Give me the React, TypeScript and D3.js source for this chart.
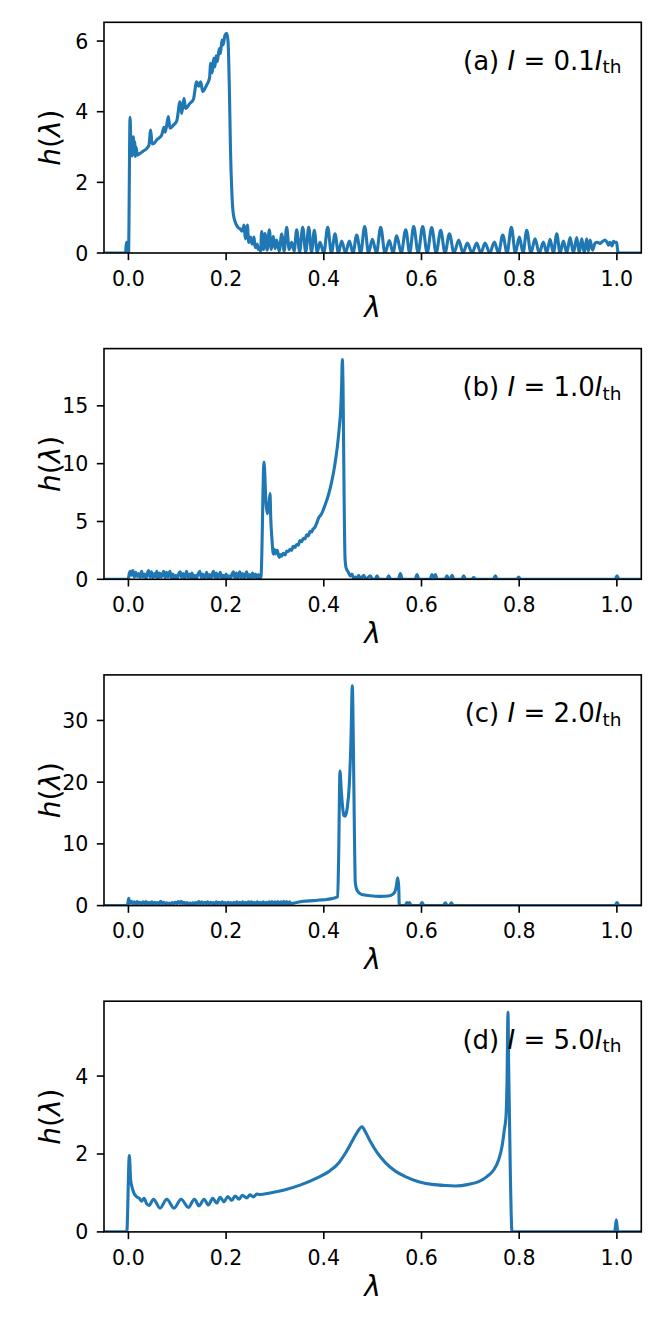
import React from 'react';
import * as d3 from 'd3';

// ---------- data (lambda, h) ----------
const seriesA: [number, number][] = [
  [-0.06, 0], [-0.006, 0], [-0.004, 0.3], [-0.0015, 0.2], [0.0005, 0], [0.0015, 1.5], [0.0033, 3.84],
  [0.0055, 2.9], [0.0074, 2.75], [0.0101, 3.29], [0.0115, 2.8], [0.0128, 3.15], [0.0142, 2.73],
  [0.0155, 3.0], [0.0183, 2.77], [0.0237, 2.82], [0.03, 2.88], [0.0374, 2.96], [0.042, 3.05],
  [0.0456, 3.48], [0.0483, 3.09], [0.052, 3.1], [0.0578, 3.2], [0.064, 3.27], [0.0681, 3.34],
  [0.0729, 3.56], [0.0755, 3.42], [0.0817, 3.86], [0.085, 3.53], [0.092, 3.62], [0.099, 3.74],
  [0.1056, 4.28], [0.109, 3.95], [0.1138, 4.38], [0.117, 4.09], [0.126, 4.24], [0.133, 4.35],
  [0.1397, 4.85], [0.144, 4.72], [0.148, 4.85], [0.152, 4.57], [0.16, 4.75], [0.166, 4.95],
  [0.1684, 5.37], [0.1715, 5.1], [0.1745, 5.51], [0.177, 5.27], [0.1793, 5.58], [0.182, 5.42],
  [0.186, 5.79], [0.1885, 5.65], [0.1916, 6.03], [0.194, 5.89], [0.1977, 6.17], [0.2011, 6.22],
  [0.2039, 6.0], [0.2066, 4.7], [0.209, 2.9], [0.2115, 1.8], [0.214, 1.2], [0.217, 0.95],
  [0.221, 0.8], [0.226, 0.7], [0.2285, 0.69], [0.232, 0.62], [0.234, 0.64], [0.2366, 0.79],
  [0.2394, 0.4], [0.241, 0.6], [0.2435, 0.79], [0.2462, 0.3], [0.2485, 0.42], [0.2503, 0.45],
  [0.253, 0.25], [0.255, 0.3], [0.2571, 0.45], [0.259, 0.2], [0.2612, 0.15], [0.2635, 0.25],
  [0.266, 0.1], [0.268, 0.15], [0.2705, 0.05],
  [0.2728, 0.61], [0.2762, 0.1], [0.2796, 0.55], [0.284, 0.08], [0.2885, 0.66], [0.2926, 0.1],
  [0.2967, 0.47], [0.3001, 0.12], [0.3035, 0.37], [0.3086, 0.05], [0.3138, 0.54], [0.3189, 0.05],
  [0.324, 0.73], [0.3291, 0.1], [0.3342, 0.3], [0.3393, 0.05], [0.3445, 0.66], [0.3506, 0.03],
  [0.3568, 0.73], [0.363, 0.02], [0.3691, 0.73], [0.3748, 0.02], [0.3806, 0.64], [0.3864, 0.02],
  [0.3922, 0.3], [0.4, 0], [0.408, 0.73], [0.4155, 0], [0.423, 0.54], [0.4298, 0],
  [0.4366, 0.34], [0.4445, 0], [0.4523, 0.34], [0.4598, 0], [0.4673, 0.51], [0.4755, 0],
  [0.4837, 0.75], [0.4915, 0], [0.4994, 0.39], [0.5079, 0], [0.5164, 0.73], [0.5253, 0],
  [0.5342, 0.35], [0.5417, 0], [0.5492, 0.49], [0.5585, 0], [0.5677, 0.66], [0.5758, 0],
  [0.584, 0.75], [0.5932, 0], [0.6024, 0.75], [0.6116, 0], [0.6209, 0.72], [0.6301, 0],
  [0.6393, 0.64], [0.6482, 0], [0.6571, 0.54], [0.6666, 0], [0.6762, 0.37], [0.685, 0],
  [0.6939, 0.28], [0.7035, 0], [0.713, 0.28], [0.7215, 0], [0.7301, 0.28], [0.7397, 0],
  [0.7492, 0.31], [0.7578, 0], [0.7663, 0.51], [0.7752, 0], [0.784, 0.73], [0.7922, 0],
  [0.8004, 0.45], [0.8079, 0], [0.8154, 0.64], [0.824, 0], [0.8325, 0.4], [0.841, 0],
  [0.8495, 0.31], [0.8564, 0], [0.8632, 0.39], [0.87, 0], [0.8769, 0.54], [0.8837, 0],
  [0.8905, 0.34], [0.8974, 0], [0.9042, 0.44], [0.911, 0], [0.9178, 0.44], [0.923, 0],
  [0.9281, 0.4], [0.9332, 0], [0.9383, 0.4], [0.9417, 0.05], [0.9451, 0.37], [0.9502, 0.08],
  [0.9553, 0.28], [0.96, 0.3], [0.9656, 0.27], [0.97, 0.32], [0.9758, 0.37], [0.98, 0.3],
  [0.983, 0.22], [0.986, 0.3], [0.99, 0.2], [0.993, 0.33], [0.9963, 0.3], [0.9995, 0.3],
  [1.0015, 0.08], [1.003, 0], [1.06, 0],
];

const seriesB: [number, number][] = [
  [-0.06, 0], [-0.002, 0], [0.0, 0.1], [0.002, 0.55], [0.004, 0.7], [0.006, 0.35], [0.009, 0.75],
  [0.012, 0.2], [0.015, 0.6], [0.018, 0.25], [0.021, 0.5], [0.024, 0.15], [0.027, 0.7], [0.03, 0.2],
  [0.033, 0.45], [0.036, 0.1], [0.039, 0.55], [0.041, 0.75], [0.044, 0.2], [0.047, 0.65], [0.05, 0.15],
  [0.053, 0.5], [0.056, 0.2], [0.058, 0.7], [0.061, 0.1], [0.064, 0.55], [0.067, 0.2], [0.07, 0.45],
  [0.072, 0.7], [0.075, 0.15], [0.078, 0.6], [0.081, 0.2], [0.085, 0.7], [0.088, 0.1], [0.091, 0.45],
  [0.094, 0.1], [0.097, 0.35], [0.1, 0.05], [0.103, 0.5], [0.106, 0.65], [0.109, 0.15], [0.112, 0.5],
  [0.115, 0.1], [0.119, 0.7], [0.122, 0.15], [0.125, 0.45], [0.128, 0.1], [0.13, 0.55], [0.133, 0.1],
  [0.136, 0.35], [0.139, 0.05], [0.142, 0.4], [0.146, 0.7], [0.149, 0.15], [0.152, 0.45], [0.155, 0.1],
  [0.158, 0.35], [0.16, 0.6], [0.163, 0.1], [0.166, 0.4], [0.169, 0.1], [0.172, 0.5], [0.174, 0.7],
  [0.177, 0.15], [0.18, 0.55], [0.183, 0.1], [0.186, 0.4], [0.188, 0.6], [0.191, 0.1], [0.194, 0.35],
  [0.197, 0.05], [0.2, 0.45], [0.203, 0.1], [0.206, 0.3], [0.209, 0.05], [0.212, 0.45], [0.215, 0.65],
  [0.218, 0.15], [0.221, 0.55], [0.224, 0.1], [0.228, 0.65], [0.231, 0.15], [0.234, 0.5], [0.237, 0.1],
  [0.24, 0.45], [0.242, 0.65], [0.245, 0.1], [0.248, 0.4], [0.251, 0.1], [0.254, 0.55], [0.257, 0.15],
  [0.26, 0.45], [0.263, 0.1], [0.266, 0.4], [0.269, 0.05], [0.2715, 0.25], [0.2776, 10.15],
  [0.2817, 6.55], [0.2844, 5.68], [0.2872, 6.26], [0.2899, 7.41], [0.2913, 5.39], [0.294, 3.37],
  [0.2967, 2.18], [0.2985, 2.6], [0.3005, 2.2], [0.3022, 2.45], [0.3049, 2.5], [0.307, 2.1],
  [0.309, 1.9], [0.3115, 2.15], [0.3138, 2.0], [0.317, 2.25], [0.3206, 2.1], [0.324, 2.45],
  [0.3274, 2.4], [0.331, 2.6], [0.3343, 2.5], [0.337, 2.85], [0.3411, 2.75], [0.344, 3.0],
  [0.3479, 2.95], [0.351, 3.35], [0.3547, 3.25], [0.358, 3.55], [0.3615, 3.5], [0.365, 3.85],
  [0.3683, 3.75], [0.372, 4.15], [0.3752, 4.1], [0.378, 4.35], [0.3799, 4.4], [0.3854, 4.84],
  [0.3888, 5.25], [0.3956, 5.68], [0.4024, 6.4], [0.4093, 7.27], [0.4161, 8.42], [0.4229, 10.0],
  [0.4277, 11.45], [0.4318, 13.18], [0.4345, 14.62], [0.4366, 16.93], [0.4379, 19.0], [0.4393, 16.9],
  [0.4413, 8.28], [0.4434, 1.9], [0.4454, 1.04], [0.4502, 0.61], [0.4545, 0.3], [0.4577, 0.45],
  [0.461, 0.1], [0.4655, 0.2], [0.468, 0.05], [0.4714, 0.35], [0.475, 0.03], [0.4816, 0.35],
  [0.486, 0.02], [0.4952, 0.3], [0.5, 0], [0.5049, 0], [0.5089, 0.3], [0.513, 0], [0.529, 0],
  [0.5328, 0.3], [0.537, 0], [0.5527, 0], [0.5567, 0.5], [0.5607, 0], [0.5868, 0], [0.5908, 0.4],
  [0.5948, 0], [0.6175, 0], [0.6215, 0.4], [0.625, 0.1], [0.6283, 0.4], [0.6323, 0], [0.6482, 0],
  [0.6522, 0.3], [0.6562, 0], [0.6585, 0], [0.6625, 0.35], [0.6665, 0], [0.6824, 0], [0.6864, 0.3],
  [0.6904, 0], [0.7029, 0], [0.7069, 0.15], [0.7109, 0], [0.7472, 0], [0.7512, 0.3], [0.7552, 0],
  [0.795, 0], [0.799, 0.2], [0.803, 0], [0.9963, 0], [1.0003, 0.3], [1.0043, 0], [1.06, 0],
];

const seriesC: [number, number][] = [
  [-0.06, 0], [-0.002, 0], [0.0005, 1.2], [0.003, 0.35], [0.006, 0.7], [0.009, 0.3], [0.012, 0.6],
  [0.015, 0.25], [0.018, 0.65], [0.021, 0.3], [0.024, 0.55], [0.027, 0.25], [0.03, 0.6], [0.033, 0.3],
  [0.036, 0.65], [0.039, 0.25], [0.042, 0.5], [0.045, 0.3], [0.048, 0.6], [0.051, 0.2], [0.054, 0.55],
  [0.057, 0.3], [0.06, 0.5], [0.063, 0.25], [0.066, 0.7], [0.069, 0.3], [0.072, 0.55], [0.075, 0.25],
  [0.078, 0.45], [0.081, 0.2], [0.084, 0.4], [0.087, 0.25], [0.09, 0.5], [0.093, 0.3], [0.096, 0.55],
  [0.099, 0.3], [0.102, 0.65], [0.105, 0.35], [0.108, 0.7], [0.111, 0.3], [0.114, 0.55], [0.117, 0.25],
  [0.12, 0.5], [0.123, 0.2], [0.126, 0.4], [0.129, 0.2], [0.132, 0.45], [0.135, 0.25], [0.138, 0.5],
  [0.141, 0.3], [0.144, 0.65], [0.147, 0.3], [0.15, 0.6], [0.153, 0.25], [0.156, 0.55], [0.159, 0.3],
  [0.162, 0.6], [0.165, 0.25], [0.168, 0.55], [0.171, 0.3], [0.174, 0.5], [0.177, 0.2], [0.18, 0.6],
  [0.183, 0.3], [0.186, 0.55], [0.189, 0.25], [0.192, 0.6], [0.195, 0.3], [0.198, 0.5], [0.201, 0.2],
  [0.204, 0.55], [0.207, 0.3], [0.21, 0.5], [0.213, 0.2], [0.216, 0.55], [0.219, 0.25], [0.222, 0.6],
  [0.225, 0.2], [0.228, 0.55], [0.231, 0.2], [0.234, 0.6], [0.237, 0.2], [0.24, 0.55], [0.243, 0.2],
  [0.246, 0.6], [0.249, 0.25], [0.252, 0.6], [0.255, 0.2], [0.258, 0.55], [0.261, 0.2], [0.264, 0.6],
  [0.267, 0.25], [0.27, 0.55], [0.273, 0.2], [0.276, 0.6], [0.279, 0.2], [0.282, 0.55], [0.285, 0.15],
  [0.288, 0.6], [0.291, 0.2], [0.294, 0.65], [0.297, 0.15], [0.3, 0.6], [0.303, 0.15], [0.306, 0.65],
  [0.309, 0.15], [0.312, 0.6], [0.315, 0.2], [0.318, 0.7], [0.321, 0.2], [0.324, 0.65], [0.327, 0.15],
  [0.33, 0.6], [0.334, 0.2], [0.3376, 0.4], [0.3445, 0.5], [0.3581, 0.7], [0.3786, 0.8], [0.3922, 0.9],
  [0.4059, 1.0], [0.4195, 1.2], [0.4284, 1.45], [0.4304, 8], [0.4331, 21.8], [0.4359, 18.5],
  [0.4386, 15.9], [0.441, 14.6], [0.4434, 14.5], [0.4458, 14.9], [0.4481, 15.9], [0.4522, 19.6],
  [0.4556, 26.8], [0.4584, 35.6], [0.4604, 26.8], [0.4625, 12.9], [0.4645, 3.7], [0.4686, 2.4],
  [0.4775, 1.8], [0.4946, 1.6], [0.5151, 1.5], [0.5321, 1.55], [0.5424, 1.9], [0.5478, 2.8],
  [0.5512, 4.5], [0.5533, 3.2], [0.5546, 0], [0.5663, 0], [0.5703, 0.5], [0.5727, 0.1], [0.5751, 0.5],
  [0.5791, 0], [0.5971, 0], [0.6011, 0.5], [0.6051, 0], [0.6448, 0], [0.6488, 0.45], [0.6528, 0],
  [0.6571, 0], [0.6611, 0.45], [0.6651, 0], [0.9963, 0], [1.0003, 0.5], [1.0043, 0], [1.06, 0],
];

const seriesD: [number, number][] = [
  [-0.06, 0], [-0.0034, 0], [0.0019, 1.96], [0.0046, 1.33], [0.0074, 1.15], [0.0115, 0.99],
  [0.017, 0.9], [0.0224, 0.86], [0.0272, 0.79], [0.032, 0.86], [0.0375, 0.72], [0.0423, 0.68],
  [0.0512, 0.84], [0.0648, 0.61], [0.0785, 0.84], [0.0935, 0.61], [0.1078, 0.84], [0.1228, 0.63],
  [0.1351, 0.84], [0.1446, 0.67], [0.1549, 0.84], [0.1637, 0.69], [0.1726, 0.86], [0.1808, 0.74],
  [0.1876, 0.89], [0.1958, 0.77], [0.2033, 0.91], [0.2115, 0.81], [0.2183, 0.92], [0.2265, 0.84],
  [0.2333, 0.94], [0.2422, 0.87], [0.249, 0.95], [0.256, 0.9], [0.2626, 0.97], [0.2694, 0.96],
  [0.29, 1.0], [0.3172, 1.07], [0.3513, 1.2], [0.3854, 1.38], [0.4127, 1.57], [0.4305, 1.77],
  [0.4441, 2.02], [0.4577, 2.32], [0.468, 2.55], [0.4782, 2.7], [0.485, 2.57], [0.4953, 2.32],
  [0.5089, 2.04], [0.526, 1.78], [0.5465, 1.56], [0.5669, 1.42], [0.5942, 1.29], [0.6215, 1.22],
  [0.6488, 1.19], [0.6693, 1.18], [0.6966, 1.22], [0.7171, 1.29], [0.734, 1.42], [0.7477, 1.59],
  [0.758, 1.85], [0.7648, 2.19], [0.7696, 2.62], [0.773, 2.96], [0.775, 3.8], [0.7771, 5.64],
  [0.7785, 4.2], [0.7819, 1.5], [0.7853, 0], [0.9955, 0], [0.9988, 0.31], [1.002, 0], [1.06, 0],
];

const xTickValues = [0, 0.2, 0.4, 0.6, 0.8, 1.0];
const yTicksA = [0, 2, 4, 6];
const yTicksB = [0, 5, 10, 15];
const yTicksC = [0, 10, 20, 30];
const yTicksD = [0, 2, 4];
const panelTags = ['(a)', '(b)', '(c)', '(d)'];
const currentRatios = ['0.1', '1.0', '2.0', '5.0'];
const xDomain: [number, number] = [-0.05, 1.05];

// ---------- layout ----------
const W = 664;
const H = 1328;
const LEFT = 104;
const RIGHT = 641.3;
const TOPS = [22.3, 348.6, 674.9, 1001.2];
const PH = 230.7;
const FONT = 'DejaVu Sans';
const BLUE = '#1f77b4';

type PanelProps = {
  idx: number;
  data: [number, number][];
  yTicks: number[];
  tag: string;
  ratio: string;
};

function Panel({ idx, data, yTicks, tag, ratio }: PanelProps) {
  const top = TOPS[idx];
  const bottom = top + PH;
  const x = d3.scaleLinear().domain(xDomain).range([LEFT, RIGHT]);
  const ymax = (d3.max(data, (d) => d[1]) as number) * 1.05;
  const y = d3.scaleLinear().domain([0, ymax]).range([bottom, top]);
  const line = d3
    .line<[number, number]>()
    .x((d) => x(d[0]))
    .y((d) => y(d[1]))
    .curve(d3.curveMonotoneX);
  const clipId = `clip-${idx}`;
  const fmtX = d3.format('.1f');
  const tickFs = 20.5;
  return (
    <g>
      <defs>
        <clipPath id={clipId}>
          <rect x={LEFT} y={top} width={RIGHT - LEFT} height={PH} />
        </clipPath>
      </defs>
      <path
        d={line(data) || ''}
        fill="none"
        stroke={BLUE}
        strokeWidth={3.1}
        strokeLinejoin="round"
        clipPath={`url(#${clipId})`}
      />
      <rect x={LEFT} y={top} width={RIGHT - LEFT} height={PH} fill="none" stroke="#000" strokeWidth={1.6} />
      {xTickValues.map((t) => (
        <g key={`x${t}`}>
          <line x1={x(t)} x2={x(t)} y1={bottom} y2={bottom + 7.2} stroke="#000" strokeWidth={1.6} />
          <text x={x(t)} y={bottom + 32.8} textAnchor="middle" fontSize={tickFs} fontFamily={FONT} fill="#000">
            {fmtX(t)}
          </text>
        </g>
      ))}
      {yTicks.map((t) => (
        <g key={`y${t}`}>
          <line x1={LEFT - 7.2} x2={LEFT} y1={y(t)} y2={y(t)} stroke="#000" strokeWidth={1.6} />
          <text x={88.3} y={y(t) + 7.5} textAnchor="end" fontSize={tickFs} fontFamily={FONT} fill="#000">
            {String(t)}
          </text>
        </g>
      ))}
      <text
        transform={`translate(59.6, ${(top + bottom) / 2}) rotate(-90)`}
        textAnchor="middle"
        fontSize={28}
        fontFamily={FONT}
        fill="#000"
      >
        <tspan fontStyle="italic">h</tspan>
        <tspan>(</tspan>
        <tspan fontStyle="italic">λ</tspan>
        <tspan>)</tspan>
      </text>
      <text x={(LEFT + RIGHT) / 2} y={bottom + 63.7} textAnchor="middle" fontSize={28} fontFamily={FONT} fontStyle="italic" fill="#000">
        λ
      </text>
      <text x={621.5} y={top + 47.5} textAnchor="end" fontSize={26} fontFamily={FONT} fill="#000" style={{ whiteSpace: 'pre' }}>
        <tspan>{tag + ' '}</tspan>
        <tspan fontStyle="italic">I</tspan>
        <tspan>{' = ' + ratio}</tspan>
        <tspan fontStyle="italic">I</tspan>
        <tspan fontSize={18.5} dy={3.5}>th</tspan>
      </text>
    </g>
  );
}

export default function App() {
  const series = [seriesA, seriesB, seriesC, seriesD];
  const ticks = [yTicksA, yTicksB, yTicksC, yTicksD];
  return (
    <svg
      width={W}
      height={H}
      viewBox={`0 0 ${W} ${H}`}
      style={{ position: 'absolute', left: 0, top: 0, background: '#fff' }}
    >
      <rect x={0} y={0} width={W} height={H} fill="#fff" />
      {series.map((s, i) => (
        <Panel key={i} idx={i} data={s} yTicks={ticks[i]} tag={panelTags[i]} ratio={currentRatios[i]} />
      ))}
    </svg>
  );
}
